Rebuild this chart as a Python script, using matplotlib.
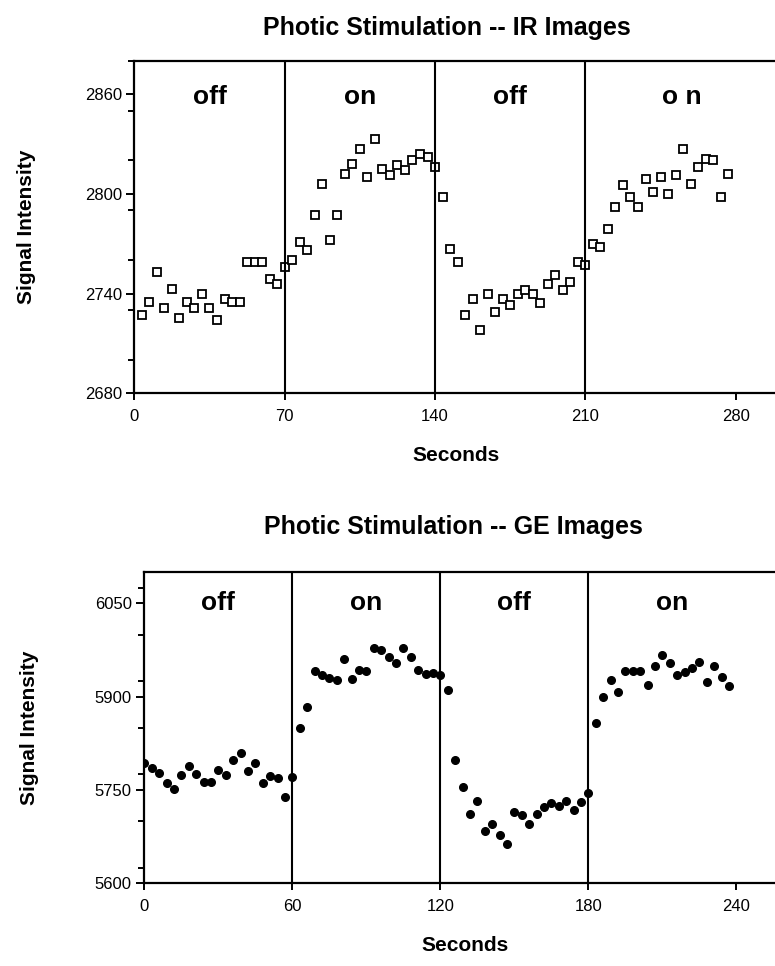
import numpy as np
import matplotlib.pyplot as plt
from matplotlib.ticker import MultipleLocator

plt.rcParams['font.family'] = ['Liberation Sans', 'DejaVu Sans']

# --- IR images (open squares), one point every 3.5 s ---
ir_dt = 3.5
ir_signal = [
    # off 0-70
    2727, 2735, 2753, 2731, 2743, 2725, 2735, 2731, 2740, 2731,
    2724, 2737, 2735, 2735, 2759, 2759, 2759, 2749, 2746, 2756,
    # on 70-140
    2760, 2771, 2766, 2787, 2806, 2772, 2787, 2812, 2818, 2827,
    2810, 2833, 2815, 2811, 2817, 2814, 2820, 2824, 2822, 2816,
    # off 140-210
    2798, 2767, 2759, 2727, 2737, 2718, 2740, 2729, 2737, 2733,
    2740, 2742, 2740, 2734, 2746, 2751, 2742, 2747, 2759, 2757,
    # on 210-
    2770, 2768, 2779, 2792, 2805, 2798, 2792, 2809, 2801, 2810,
    2800, 2811, 2827, 2806, 2816, 2821, 2820, 2798, 2812,
]
ir_bounds = [70, 140, 210]
ir_labels = ['off', 'on', 'off', 'o n']
ir_label_x = [35, 105, 175, 255]

# --- GE images (filled circles), one point every 3 s ---
ge_dt = 3
ge_signal = [
    # off 0-60
    5794, 5785, 5778, 5761, 5751, 5774, 5789, 5776, 5763, 5763,
    5783, 5774, 5799, 5809, 5781, 5793, 5761, 5772, 5769, 5739,
    # on 60-120
    5771, 5849, 5883, 5942, 5935, 5930, 5927, 5960, 5928, 5943,
    5942, 5978, 5976, 5964, 5954, 5978, 5964, 5943, 5936, 5938,
    # off 120-180
    5935, 5911, 5798, 5755, 5711, 5733, 5684, 5696, 5678, 5664,
    5715, 5710, 5695, 5712, 5722, 5729, 5724, 5733, 5718, 5731,
    # on 180-
    5746, 5857, 5900, 5927, 5908, 5942, 5942, 5942, 5919, 5950,
    5967, 5955, 5935, 5940, 5946, 5956, 5924, 5949, 5931, 5917,
]
ge_bounds = [60, 120, 180]
ge_labels = ['off', 'on', 'off', 'on']
ge_label_x = [30, 90, 150, 214]

ir_t = ir_dt * np.arange(1, len(ir_signal) + 1)
ge_t = ge_dt * np.arange(0, len(ge_signal))

W, H = 775, 966
fig = plt.figure(figsize=(W / 100, H / 100), dpi=100)


def px_axes(left, top, right, bottom):
    return fig.add_axes([left / W, 1 - bottom / H, (right - left) / W, (bottom - top) / H])


def style(ax, xticks, yticks, ymin_step):
    for s in ['left', 'bottom', 'top', 'right']:
        ax.spines[s].set_linewidth(1.6)
    ax.spines['right'].set_visible(False)
    ax.set_xticks(xticks)
    ax.set_yticks(yticks)
    ax.yaxis.set_minor_locator(MultipleLocator(ymin_step))
    ax.tick_params(which='major', direction='out', length=6, width=1.4, labelsize=12, pad=3)
    ax.tick_params(which='minor', direction='out', length=4, width=1.4)
    ax.tick_params(axis='x', which='major', length=5, pad=6)
    ax.set_xlabel('Seconds', fontsize=15, fontweight='bold', labelpad=16)


# top panel
ax1 = px_axes(134.3, 60.7, 134.3 + 300 * 2.148, 393.3)
ax1.plot(ir_t, ir_signal, 's', ms=5.5, mfc='white', mec='black', mew=1.3)
for b in ir_bounds:
    ax1.axvline(b, color='black', lw=1.5)
for lab, x in zip(ir_labels, ir_label_x):
    ax1.text(x, 0.89, lab, transform=ax1.get_xaxis_transform(), ha='center', va='center',
             fontsize=19, fontweight='bold')
ax1.set_xlim(0, 300)
ax1.set_ylim(2680, 2880)
style(ax1, [0, 70, 140, 210, 280], [2680, 2740, 2800, 2860], 30)
ax1.set_ylabel('Signal Intensity', fontsize=15, fontweight='bold')
ax1.yaxis.set_label_coords(-0.153, 0.5)
fig.text(0.577, 1 - 28 / H, 'Photic Stimulation -- IR Images', ha='center', va='center',
         fontsize=18, fontweight='bold')

# bottom panel
ax2 = px_axes(144.3, 572.4, 144.3 + 260 * 2.467, 883.3)
ax2.plot(ge_t, ge_signal, 'o', ms=5.5, color='black')
for b in ge_bounds:
    ax2.axvline(b, color='black', lw=1.5)
for lab, x in zip(ge_labels, ge_label_x):
    ax2.text(x, 0.9, lab, transform=ax2.get_xaxis_transform(), ha='center', va='center',
             fontsize=19, fontweight='bold')
ax2.set_xlim(0, 260)
ax2.set_ylim(5600, 6100)
style(ax2, [0, 60, 120, 180, 240], [5600, 5750, 5900, 6050], 75)
ax2.set_ylabel('Signal Intensity', fontsize=15, fontweight='bold')
ax2.yaxis.set_label_coords(-0.164, 0.5)
fig.text(0.585, 1 - 527 / H, 'Photic Stimulation -- GE Images', ha='center', va='center',
         fontsize=18, fontweight='bold')

fig.savefig('out.png', dpi=100)
